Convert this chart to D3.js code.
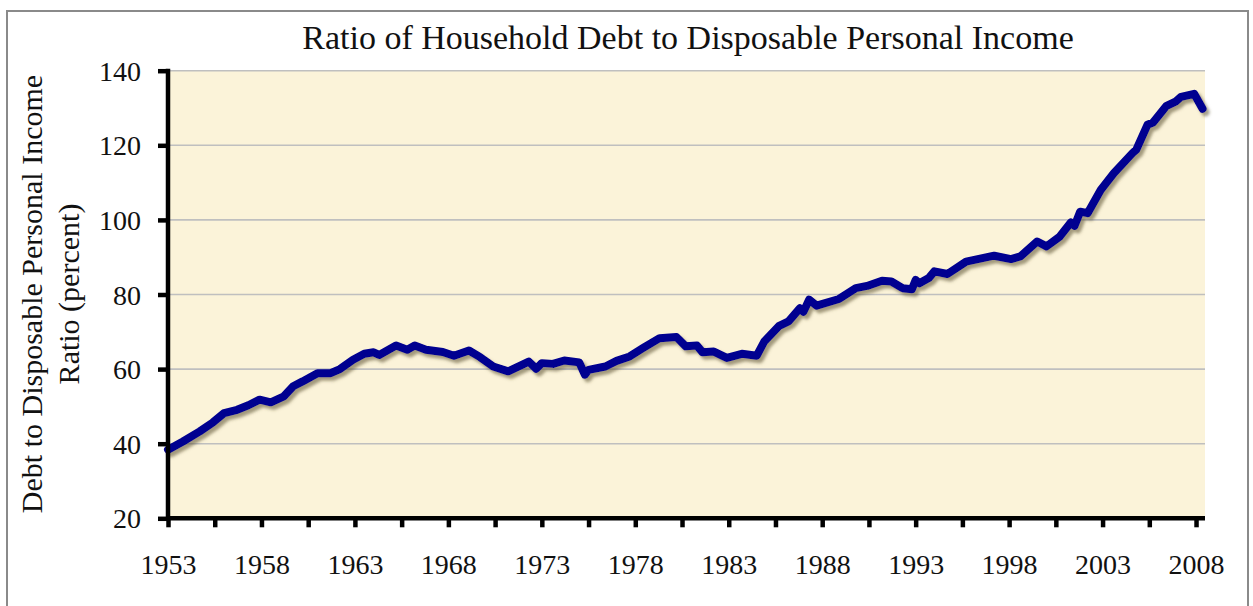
<!DOCTYPE html>
<html>
<head>
<meta charset="utf-8">
<script src="https://cdn.jsdelivr.net/npm/d3@7"></script>
<style>
  body { margin: 0; background: #fff; }
  #chart-container text { font-family: "Liberation Serif", "Times New Roman", serif; fill: #111; }
</style>
</head>
<body>
<div id="chart-container"></div>
<script>
// readings taken off the original chart (decimal year, ratio in percent)
const years = [
  1953.0, 1953.8, 1954.7, 1955.4, 1956.0, 1956.7, 1957.3, 1957.9, 1958.5, 1959.2,
  1959.7, 1960.2, 1961.0, 1961.7, 1962.2, 1962.9, 1963.5, 1964.0, 1964.3, 1965.2,
  1965.8, 1966.2, 1966.8, 1967.7, 1968.3, 1969.1, 1969.7, 1970.4, 1971.2, 1972.3,
  1972.7, 1973.0, 1973.6, 1974.2, 1975.0, 1975.3, 1975.5, 1976.4, 1977.0, 1977.7,
  1978.4, 1979.3, 1980.2, 1980.7, 1981.3, 1981.6, 1982.2, 1982.9, 1983.7, 1984.5,
  1984.9, 1985.7, 1986.2, 1986.8, 1987.0, 1987.3, 1987.7, 1988.9, 1989.8, 1990.4,
  1991.2, 1991.7, 1992.3, 1992.8, 1993.0, 1993.2, 1993.7, 1994.0, 1994.7, 1995.7,
  1997.2, 1998.1, 1998.6, 1999.5, 2000.0, 2000.7, 2001.3, 2001.5, 2001.8, 2002.2,
  2002.9, 2003.6, 2004.6, 2004.8, 2005.4, 2005.7, 2006.4, 2006.9, 2007.2, 2007.9,
  2008.35
];
const ratio = [
  38.4, 40.6, 43.3, 45.7, 48.2, 49.1, 50.3, 51.8, 51.1, 52.7,
  55.4, 56.7, 58.9, 58.9, 60.0, 62.5, 64.1, 64.5, 63.8, 66.3,
  65.2, 66.3, 65.2, 64.6, 63.6, 65.0, 63.2, 60.7, 59.4, 62.0,
  60.1, 61.6, 61.4, 62.3, 61.8, 58.5, 59.8, 60.7, 62.2, 63.4,
  65.6, 68.3, 68.6, 66.1, 66.3, 64.5, 64.7, 63.0, 64.1, 63.6,
  67.4, 71.6, 72.8, 76.3, 75.4, 78.6, 77.0, 78.8, 81.7, 82.3,
  83.7, 83.5, 81.7, 81.4, 83.9, 83.0, 84.4, 86.2, 85.5, 88.8,
  90.4, 89.5, 90.2, 94.2, 92.9, 95.5, 99.3, 98.4, 102.2, 101.8,
  108.0, 112.5, 117.9, 118.8, 125.5, 126.1, 130.5, 131.7, 133.0, 133.8,
  129.8
];
const yTicks = [20, 40, 60, 80, 100, 120, 140];
const xLabelYears = [1953, 1958, 1963, 1968, 1973, 1978, 1983, 1988, 1993, 1998, 2003, 2008];
const xMinorYears = [1955.5, 1960.5, 1965.5, 1970.5, 1975.5, 1980.5, 1985.5, 1990.5, 1995.5, 2000.5, 2005.5];

const W = 1253, H = 606;
const margin = { top: 70.7, right: 48, bottom: 87, left: 168 };

const svg = d3.select("#chart-container")
  .append("svg")
  .attr("width", W)
  .attr("height", H);

// outer frame
svg.append("rect")
  .attr("x", 7).attr("y", 11)
  .attr("width", 1241).attr("height", 620)
  .attr("fill", "#fff")
  .attr("stroke", "#8a8a8a")
  .attr("stroke-width", 2);

const x = d3.scaleLinear()
  .domain([1953, 2008.48])
  .range([margin.left, W - margin.right]);

const y = d3.scaleLinear()
  .domain([20, 140])
  .range([H - margin.bottom - 0.7, margin.top]);

// plot background
svg.append("rect")
  .attr("x", x(1953)).attr("y", y(140))
  .attr("width", x.range()[1] - x(1953))
  .attr("height", y(20) - y(140))
  .attr("fill", "#fbf3d9");

// gridlines
svg.append("g")
  .selectAll("line")
  .data(yTicks.filter(d => d > 20))
  .join("line")
  .attr("x1", x(1953)).attr("x2", x.range()[1])
  .attr("y1", d => y(d)).attr("y2", d => y(d))
  .attr("stroke", "#bfbfbf")
  .attr("stroke-width", 1.6);

// shadow filter for the line
const defs = svg.append("defs");
const f = defs.append("filter").attr("id", "shadow")
  .attr("x", "-5%").attr("y", "-5%").attr("width", "110%").attr("height", "120%");
f.append("feDropShadow")
  .attr("dx", 3).attr("dy", 3.5)
  .attr("stdDeviation", 1.8)
  .attr("flood-color", "#5a5030")
  .attr("flood-opacity", 0.55);

const data = years.map((t, i) => ({ t: t, v: ratio[i] }));

const line = d3.line()
  .x(d => x(d.t))
  .y(d => y(d.v));

svg.append("path")
  .datum(data)
  .attr("d", line)
  .attr("fill", "none")
  .attr("stroke", "#000090")
  .attr("stroke-width", 8)
  .attr("stroke-linejoin", "round")
  .attr("stroke-linecap", "round")
  .attr("filter", "url(#shadow)");

// y axis
const yAxis = svg.append("g")
  .attr("transform", `translate(${x(1953)},0)`)
  .call(d3.axisLeft(y).tickValues(yTicks).tickSize(10).tickPadding(17));
yAxis.select(".domain")
  .attr("stroke", "#000").attr("stroke-width", 4.5)
  .attr("d", `M0,${y(140) - 2}V${y(20) + 2}`);
yAxis.selectAll(".tick line").attr("stroke", "#000").attr("stroke-width", 4.5);
yAxis.selectAll(".tick text").style("font-size", "28px").attr("dy", "0.34em");

// x axis, labels every 5 years, plain ticks in between
const xAxis = svg.append("g")
  .attr("transform", `translate(0,${y(20)})`)
  .call(d3.axisBottom(x).tickValues(xLabelYears.concat(xMinorYears)).tickSize(9).tickPadding(27)
    .tickFormat(d => xLabelYears.includes(d) ? d : ""));
xAxis.select(".domain")
  .attr("stroke", "#000").attr("stroke-width", 4.5)
  .attr("d", `M${x(1953) - 2},0H${x.range()[1]}`);
xAxis.selectAll(".tick line").attr("stroke", "#000").attr("stroke-width", 4.5);
xAxis.selectAll(".tick text").style("font-size", "28px");

// title
svg.append("text")
  .attr("x", 688).attr("y", 49)
  .attr("text-anchor", "middle")
  .style("font-size", "34px")
  .text("Ratio of Household Debt to Disposable Personal Income");

// y axis title, two lines
const yt = svg.append("text")
  .attr("transform", "translate(0,294) rotate(-90)")
  .attr("text-anchor", "middle")
  .style("font-size", "30px");
yt.append("tspan").attr("x", 0).attr("y", 42).text("Debt to Disposable Personal Income");
yt.append("tspan").attr("x", 0).attr("y", 79).text("Ratio (percent)");
</script>
</body>
</html>
